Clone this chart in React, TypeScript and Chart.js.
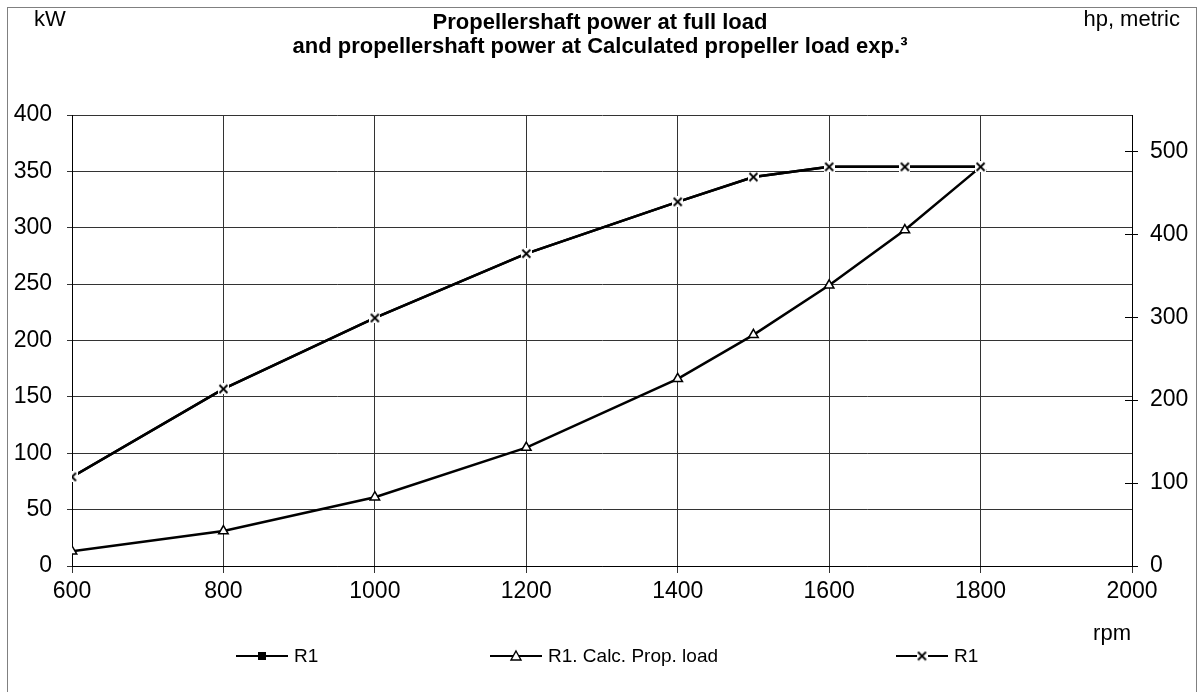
import React, { useEffect, useRef } from "react";
import { Chart, registerables } from "chart.js";

Chart.register(...registerables);

const rpm = [600, 800, 1000, 1200, 1400, 1500, 1600, 1700, 1800];
const fullLoadKw = [79, 157, 220, 277, 323, 345, 354, 354, 354];
const propLoadKw = [13, 31, 61, 105, 166, 205, 249, 298, 354];
const xTicks = [600, 800, 1000, 1200, 1400, 1600, 1800, 2000];
const kwTicks = [0, 50, 100, 150, 200, 250, 300, 350, 400];
const hpTicks = [0, 100, 200, 300, 400, 500];
const KW_PER_HP = 0.7355;
const titleLines = [
  "Propellershaft power at full load",
  "and propellershaft power at Calculated propeller load exp.³",
];
const legendLabels = ["R1", "R1. Calc. Prop. load", "R1"];
const leftUnit = "kW";
const rightUnit = "hp, metric";
const xUnit = "rpm";

const FONT = "'Liberation Sans', Arial, sans-serif";

function makeXMarker(): HTMLCanvasElement {
  const c = document.createElement("canvas");
  c.width = 11;
  c.height = 11;
  const g = c.getContext("2d")!;
  g.fillStyle = "#fff";
  g.fillRect(0, 0, 11, 11);
  g.strokeStyle = "#000";
  g.lineWidth = 1.8;
  g.beginPath();
  g.moveTo(1.5, 1.5);
  g.lineTo(9.5, 9.5);
  g.moveTo(9.5, 1.5);
  g.lineTo(1.5, 9.5);
  g.stroke();
  return c;
}

export default function App() {
  const ref = useRef<HTMLCanvasElement | null>(null);

  useEffect(() => {
    if (!ref.current) return;
    const xMarker = makeXMarker();

    const decor = {
      id: "decor",
      afterDraw(chart: any) {
        const ctx = chart.ctx as CanvasRenderingContext2D;
        const area = chart.chartArea;
        ctx.save();
        // outer border
        ctx.strokeStyle = "#808080";
        ctx.lineWidth = 1;
        ctx.strokeRect(7.5, 7.5, 1189, 700);

        // inner part of right-axis ticks
        const y2 = chart.scales.y2;
        ctx.strokeStyle = "#000";
        ctx.lineWidth = 1;
        hpTicks.forEach((v) => {
          const py = Math.round(y2.getPixelForValue(v)) + 0.5;
          ctx.beginPath();
          ctx.moveTo(area.right - 7, py);
          ctx.lineTo(area.right, py);
          ctx.stroke();
        });

        // units
        ctx.fillStyle = "#000";
        ctx.textBaseline = "middle";
        ctx.font = `22px ${FONT}`;
        ctx.textAlign = "left";
        ctx.fillText(leftUnit, 34, 20);
        ctx.textAlign = "right";
        ctx.fillText(rightUnit, 1180, 20);
        ctx.fillText(xUnit, 1131, 634);

        // title
        ctx.font = `bold 22px ${FONT}`;
        ctx.textAlign = "center";
        ctx.fillText(titleLines[0], 600, 23);
        ctx.fillText(titleLines[1], 600, 47);

        // legend
        const ly = 656;
        const items = [236, 490, 896];
        ctx.font = `19px ${FONT}`;
        ctx.textAlign = "left";
        items.forEach((x0, i) => {
          ctx.strokeStyle = "#000";
          ctx.lineWidth = 2.2;
          ctx.beginPath();
          ctx.moveTo(x0, ly);
          ctx.lineTo(x0 + 52, ly);
          ctx.stroke();
          const mx = x0 + 26;
          if (i === 0) {
            ctx.fillStyle = "#000";
            ctx.fillRect(mx - 4, ly - 4, 8, 8);
          } else if (i === 1) {
            ctx.fillStyle = "#fff";
            ctx.strokeStyle = "#000";
            ctx.lineWidth = 1.4;
            ctx.beginPath();
            ctx.moveTo(mx, ly - 5);
            ctx.lineTo(mx + 5, ly + 4);
            ctx.lineTo(mx - 5, ly + 4);
            ctx.closePath();
            ctx.fill();
            ctx.stroke();
          } else {
            ctx.drawImage(xMarker, mx - 5.5, ly - 5.5);
          }
          ctx.fillStyle = "#000";
          ctx.fillText(legendLabels[i], x0 + 58, ly + 1);
        });
        ctx.restore();
      },
    };

    const tickFont = { family: FONT, size: 23 };
    const plain = (v: any) => String(v);

    const chart = new Chart(ref.current, {
      type: "line",
      data: {
        datasets: [
          {
            label: legendLabels[0],
            data: rpm.map((x, i) => ({ x, y: fullLoadKw[i] })),
            borderColor: "#000",
            backgroundColor: "#000",
            borderWidth: 2.5,
            pointStyle: "rect",
            pointRadius: 4,
            order: 2,
            yAxisID: "y",
          },
          {
            label: legendLabels[1],
            data: rpm.map((x, i) => ({ x, y: propLoadKw[i] })),
            borderColor: "#000",
            backgroundColor: "#fff",
            borderWidth: 2.5,
            pointStyle: "triangle",
            pointRadius: 5.5,
            pointBorderWidth: 1.5,
            order: 1,
            yAxisID: "y",
          },
          {
            label: legendLabels[2],
            data: rpm.map((x, i) => ({ x, y: fullLoadKw[i] })),
            borderColor: "#000",
            backgroundColor: "#fff",
            borderWidth: 2.5,
            pointStyle: xMarker as any,
            order: 0,
            yAxisID: "y",
          },
        ],
      },
      options: {
        responsive: false,
        animation: false,
        layout: { padding: { top: 115, left: 0, right: 0, bottom: 0 } },
        plugins: {
          legend: { display: false },
          title: { display: false },
          tooltip: { enabled: false },
        },
        scales: {
          x: {
            type: "linear",
            min: 600,
            max: 2000,
            afterBuildTicks: (s: any) => {
              s.ticks = xTicks.map((v) => ({ value: v }));
            },
            afterFit: (s: any) => {
              s.height = 126;
            },
            ticks: {
              font: tickFont,
              color: "#000",
              padding: 5,
              maxRotation: 0,
              autoSkip: false,
              callback: plain,
            },
            grid: { color: "#333", lineWidth: 1, tickLength: 7 },
            border: { color: "#000", width: 1 },
          },
          y: {
            type: "linear",
            position: "left",
            min: 0,
            max: 400,
            afterBuildTicks: (s: any) => {
              s.ticks = kwTicks.map((v) => ({ value: v }));
            },
            afterFit: (s: any) => {
              s.width = 72;
            },
            ticks: { font: tickFont, color: "#000", padding: 15, callback: plain },
            grid: { color: "#333", lineWidth: 1, tickLength: 5 },
            border: { color: "#000", width: 1 },
          },
          y2: {
            type: "linear",
            position: "right",
            min: 0,
            max: 400 / KW_PER_HP,
            afterBuildTicks: (s: any) => {
              s.ticks = hpTicks.map((v) => ({ value: v }));
            },
            afterFit: (s: any) => {
              s.width = 69;
            },
            ticks: { font: tickFont, color: "#000", padding: 12, callback: plain },
            grid: {
              drawOnChartArea: false,
              color: "#000",
              lineWidth: 1,
              tickLength: 6,
            },
            border: { color: "#000", width: 1 },
          },
        },
      },
      plugins: [decor],
    });

    return () => chart.destroy();
  }, []);

  return (
    <div
      style={{
        position: "absolute",
        left: 0,
        top: 0,
        width: 1201,
        height: 692,
        background: "#fff",
      }}
    >
      <canvas
        ref={ref}
        width={1201}
        height={692}
        style={{ display: "block", width: 1201, height: 692 }}
      />
    </div>
  );
}
